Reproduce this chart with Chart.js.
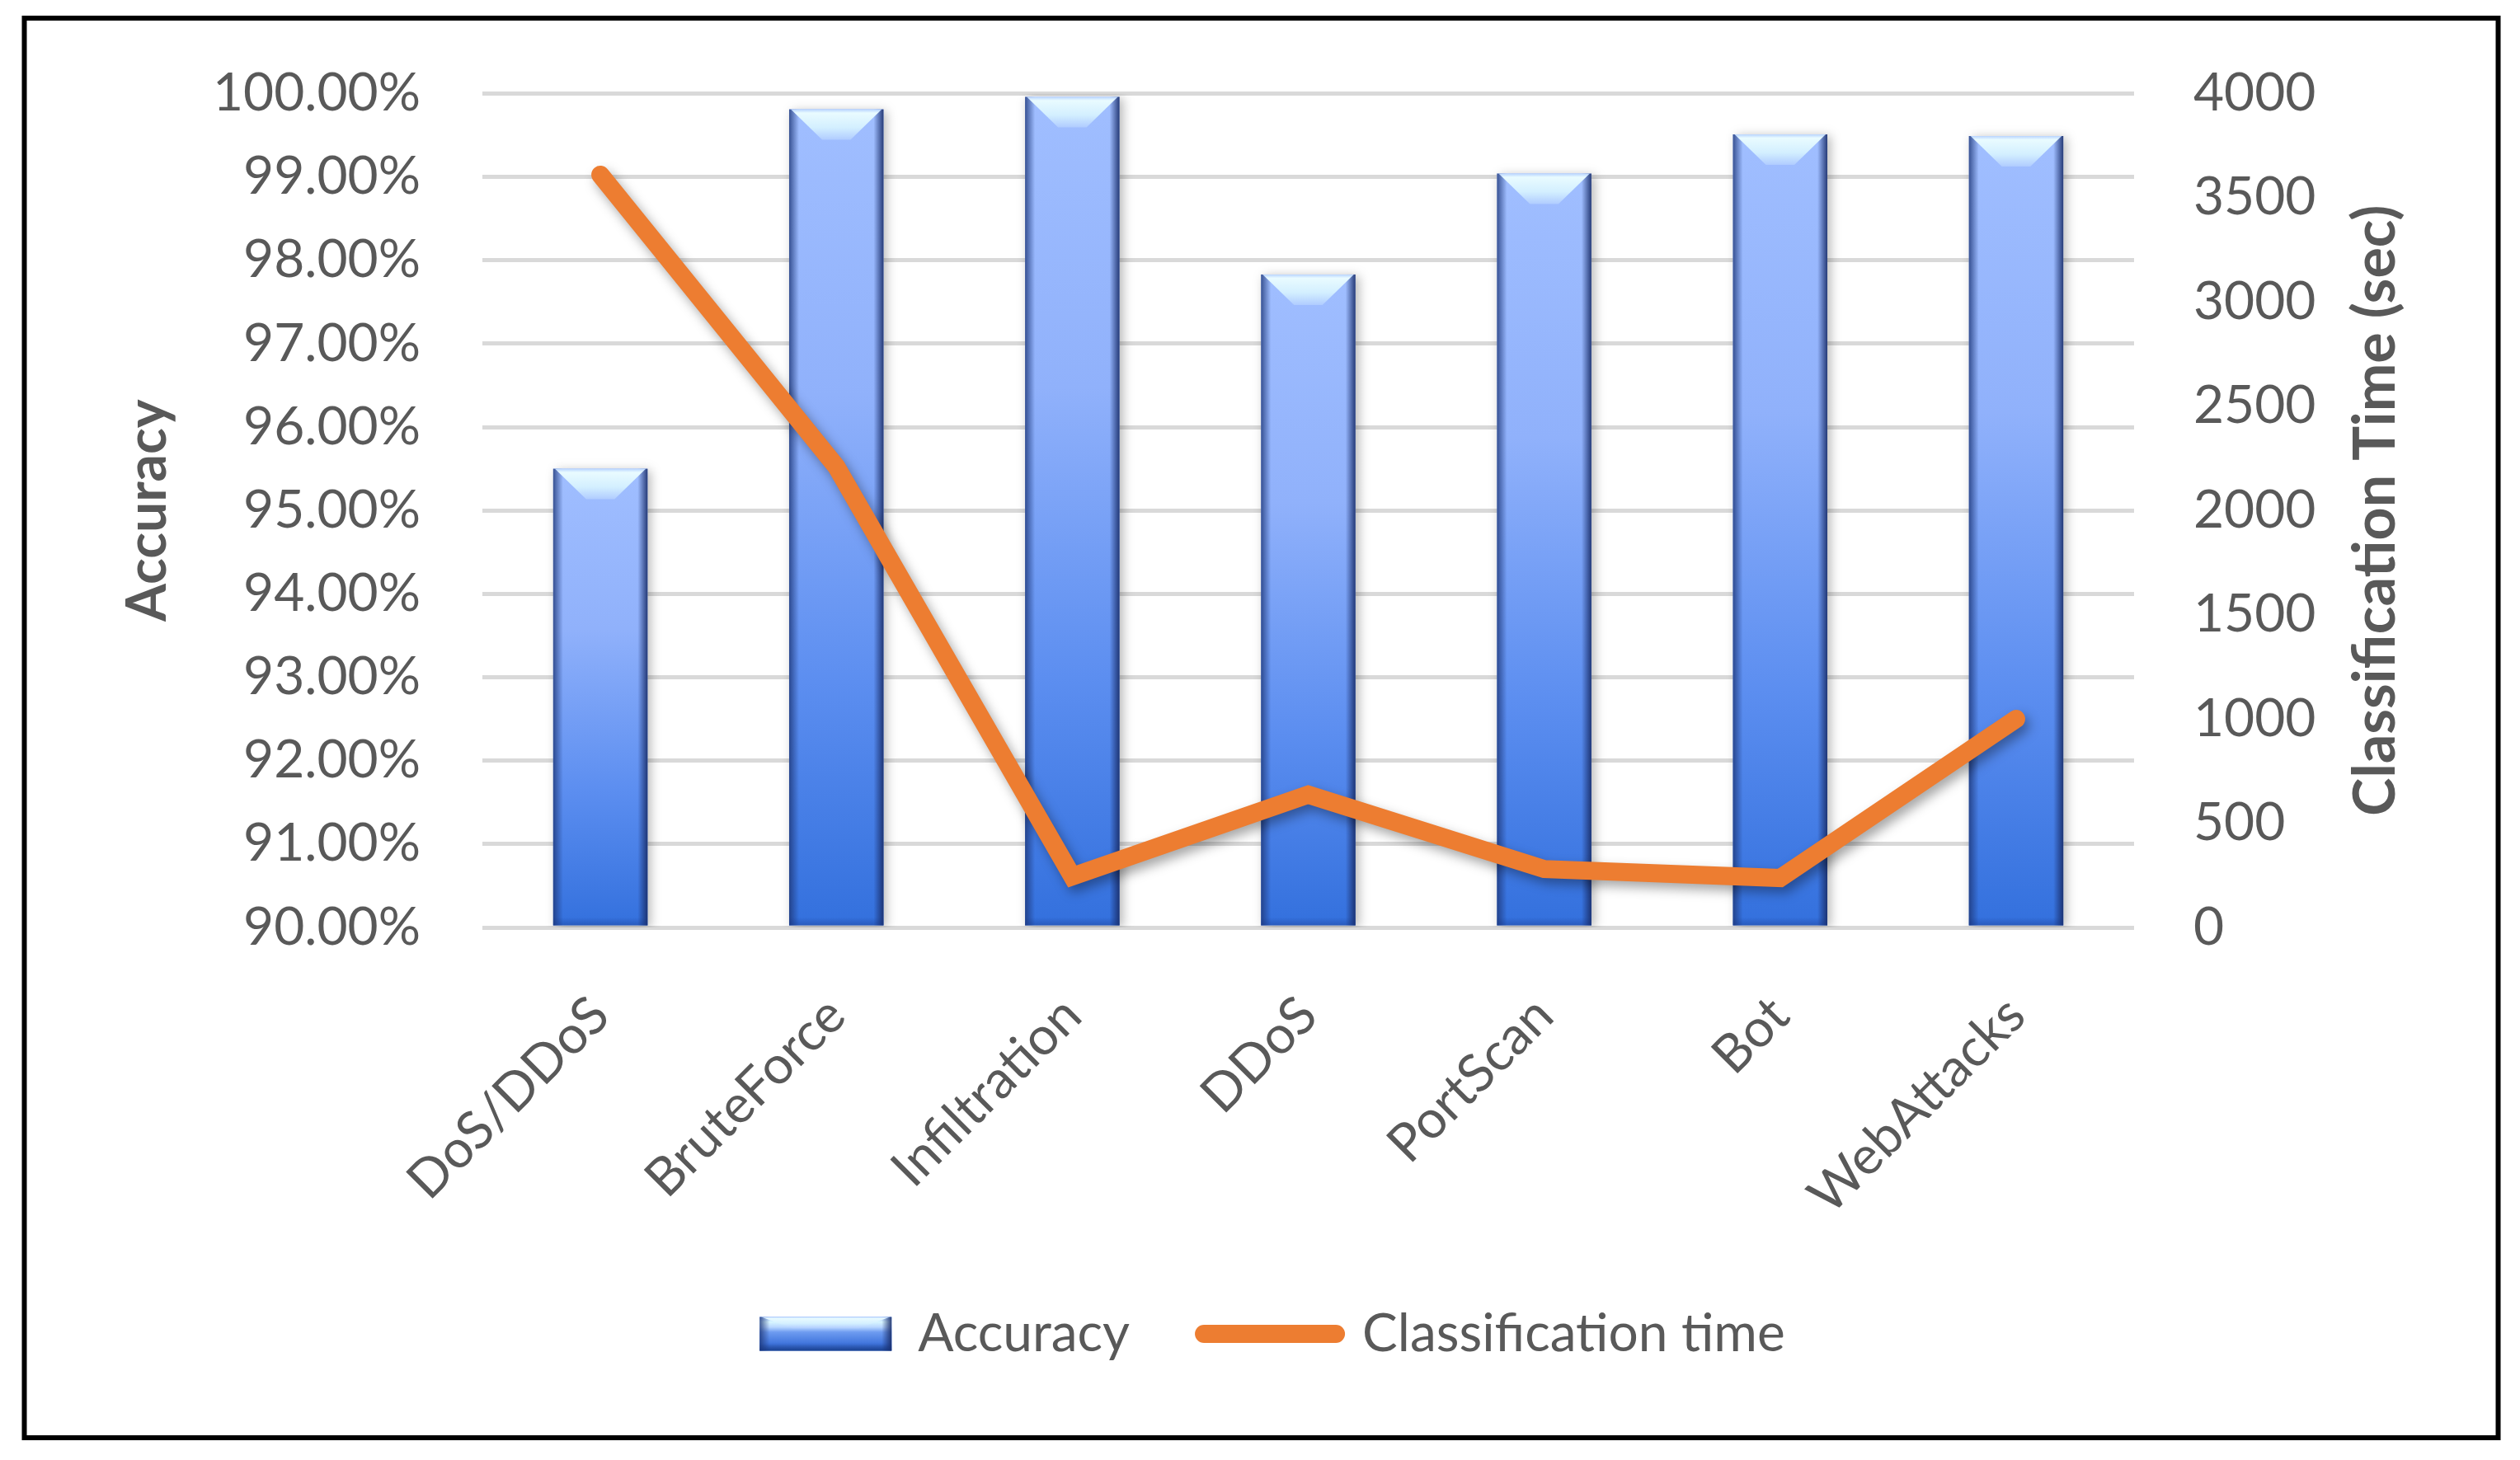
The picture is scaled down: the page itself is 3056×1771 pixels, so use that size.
<!DOCTYPE html>
<html>
<head>
<meta charset="utf-8">
<title>Accuracy and classification time</title>
<script src="https://cdn.jsdelivr.net/npm/chart.js@4.4.1/dist/chart.umd.min.js"></script>
<style>
  html, body { margin: 0; padding: 0; background: #fff; }
  canvas { display: block; }
</style>
</head>
<body>
<canvas id="chart" width="3056" height="1771"></canvas>
<script>
// attack categories on the x axis
const categories = ["DoS/DDoS", "BruteForce", "Infiltration", "DDoS", "PortScan", "Bot", "WebAttacks"];
// accuracy in percent (left axis)
const accuracy = [95.5, 99.81, 99.96, 97.83, 99.04, 99.51, 99.49];
// classification time in seconds (right axis)
const classificationTime = [3610, 2210, 245, 637, 280, 237, 1000];
// tick values
const accuracyTicks = [90, 91, 92, 93, 94, 95, 96, 97, 98, 99, 100];
const timeTicks = [0, 500, 1000, 1500, 2000, 2500, 3000, 3500, 4000];

const grey = "#595959";
const font = "Lato";

// gradient for each bar, from its top down to the axis
function barFill(context) {
  const chart = context.chart;
  const area = chart.chartArea;
  if (!area || !chart.scales.y) return "#6b98ee";
  const top = chart.scales.y.getPixelForValue(accuracy[context.dataIndex]);
  const g = chart.ctx.createLinearGradient(0, top, 0, area.bottom);
  g.addColorStop(0, "#a0beff");
  g.addColorStop(0.35, "#90b1fb");
  g.addColorStop(0.7, "#5c8ef0");
  g.addColorStop(1, "#3370dd");
  return g;
}

function drawBevel(c, x, top, base, w) {
  const l = x - w / 2, r = x + w / 2;
  const d = Math.min(37, (base - top) / 3);
  const inset = Math.min(40, w * 0.35);
  // side edges
  let g = c.createLinearGradient(l, 0, l + 12, 0);
  g.addColorStop(0, "rgba(30,55,120,0.8)");
  g.addColorStop(1, "rgba(30,55,120,0)");
  c.fillStyle = g;
  c.fillRect(l, top, 12, base - top);
  g = c.createLinearGradient(r, 0, r - 12, 0);
  g.addColorStop(0, "rgba(25,45,105,0.9)");
  g.addColorStop(1, "rgba(25,45,105,0)");
  c.fillStyle = g;
  c.fillRect(r - 12, top, 12, base - top);
  // top face
  g = c.createLinearGradient(0, top, 0, top + d);
  g.addColorStop(0, "#b8d4ff");
  g.addColorStop(0.12, "#e9fbff");
  g.addColorStop(0.6, "#d3efff");
  g.addColorStop(1, "#b0ccff");
  c.fillStyle = g;
  c.beginPath();
  c.moveTo(l + 2, top); c.lineTo(r - 2, top); c.lineTo(r - inset, top + d); c.lineTo(l + inset, top + d);
  c.closePath(); c.fill();
  // bottom edge
  g = c.createLinearGradient(0, base - 10, 0, base);
  g.addColorStop(0, "rgba(20,50,130,0)");
  g.addColorStop(1, "rgba(20,50,130,0.35)");
  c.fillStyle = g;
  c.fillRect(l, base - 10, w, 10);
}

const shading = {
  id: "shading",
  beforeDraw(chart) {
    const c = chart.ctx;
    c.save(); c.fillStyle = "#fff"; c.fillRect(0, 0, chart.width, chart.height); c.restore();
  },
  beforeDatasetDraw(chart, args) {
    const c = chart.ctx;
    c.save();
    if (args.index === 0) {
      c.shadowColor = "rgba(0,0,0,0.28)"; c.shadowBlur = 12; c.shadowOffsetX = 4; c.shadowOffsetY = 2;
    } else {
      c.shadowColor = "rgba(0,0,0,0.35)"; c.shadowBlur = 14; c.shadowOffsetX = 5; c.shadowOffsetY = 7;
    }
  },
  afterDatasetDraw(chart, args) {
    const c = chart.ctx;
    c.restore();
    if (args.index !== 0) return;
    const bottom = chart.chartArea.bottom;
    args.meta.data.forEach((bar) => {
      const p = bar.getProps(["x", "y", "base", "width"], true);
      drawBevel(c, p.x, p.y, Math.min(p.base, bottom), p.width);
    });
  },
  afterDraw(chart) {
    const c = chart.ctx;
    // legend swatch for the bars
    const hb = chart.legend.legendHitBoxes[0];
    if (hb) {
      const x = hb.left, y = hb.top + 32 - 20.5, w = 160, h = 41;
      const g = c.createLinearGradient(0, y, 0, y + h);
      g.addColorStop(0, "#a6c6ff");
      g.addColorStop(0.15, "#d8f6ff");
      g.addColorStop(0.3, "#b8d6ff");
      g.addColorStop(0.45, "#6d9bf0");
      g.addColorStop(0.8, "#3f74dc");
      g.addColorStop(1, "#1f4a98");
      c.save();
      c.fillStyle = g;
      c.fillRect(x, y, w, h);
      c.restore();
      drawBevel(c, x + w / 2, y, y + h, w);
    }
    // right axis title reads bottom to top
    const a = chart.chartArea;
    c.save();
    c.translate(chart.scales.y1.left + 316, (a.top + a.bottom) / 2);
    c.rotate(-Math.PI / 2);
    c.font = "bold 70px " + font;
    c.fillStyle = grey;
    c.textAlign = "center";
    c.textBaseline = "alphabetic";
    c.fillText("Classification Time (sec)", 0, 0);
    c.restore();
    // outer frame
    c.save();
    c.strokeStyle = "#000";
    c.lineWidth = 6;
    c.strokeRect(29.5, 22, 3000, 1722);
    c.restore();
  }
};

const setTicks = (values) => (scale) => {
  scale.ticks = values.map((v) => ({ value: v }));
};

new Chart(document.getElementById("chart"), {
  data: {
    labels: categories,
    datasets: [
      {
        type: "bar",
        label: "Accuracy",
        data: accuracy,
        yAxisID: "y",
        base: accuracyTicks[0],
        backgroundColor: barFill,
        borderWidth: 0,
        categoryPercentage: 1,
        barPercentage: 0.4,
        order: 2
      },
      {
        type: "line",
        label: "Classification time",
        data: classificationTime,
        yAxisID: "y1",
        borderColor: "#ED7D31",
        backgroundColor: "#ED7D31",
        borderWidth: 22,
        borderCapStyle: "round",
        borderJoinStyle: "miter",
        pointRadius: 0,
        tension: 0,
        order: 1
      }
    ]
  },
  options: {
    responsive: false,
    animation: false,
    devicePixelRatio: 1,
    layout: { padding: { left: 40, right: 10, top: 112, bottom: 111 } },
    plugins: {
      tooltip: { enabled: false },
      legend: {
        position: "bottom",
        labels: {
          font: { family: font, size: 64 },
          color: grey,
          usePointStyle: true,
          pointStyleWidth: 160,
          boxHeight: 41,
          padding: 90,
          sort: (a, b) => a.datasetIndex - b.datasetIndex,
          generateLabels: (chart) => chart.data.datasets.map((ds, i) => ({
            text: ds.label,
            datasetIndex: i,
            fillStyle: i === 0 ? "#6b98ee" : "#ED7D31",
            strokeStyle: "#ED7D31",
            lineWidth: i === 0 ? 0 : 22,
            lineCap: "round",
            pointStyle: i === 0 ? "rect" : "line",
            fontColor: grey,
            hidden: false
          }))
        }
      }
    },
    scales: {
      x: {
        grid: { display: false },
        border: { display: false },
        ticks: {
          color: grey,
          font: { family: font, size: 64 },
          minRotation: 45,
          maxRotation: 45,
          autoSkip: false,
          padding: 61
        },
        afterFit: (scale) => { scale.height = 371; }
      },
      y: {
        position: "left",
        min: accuracyTicks[0],
        max: accuracyTicks[accuracyTicks.length - 1],
        afterBuildTicks: setTicks(accuracyTicks),
        grid: { color: "#d9d9d9", lineWidth: 5, drawTicks: false },
        border: { display: false },
        ticks: {
          color: grey,
          font: { family: font, size: 64 },
          padding: 75,
          callback: (v) => v.toFixed(2) + "%"
        },
        title: {
          display: true,
          text: "Accuracy",
          color: grey,
          font: { family: font, size: 66, weight: "bold", lineHeight: 1 },
          padding: { top: 107, bottom: 0 }
        },
        afterFit: (scale) => { scale.width = 545; }
      },
      y1: {
        position: "right",
        min: timeTicks[0],
        max: timeTicks[timeTicks.length - 1],
        afterBuildTicks: setTicks(timeTicks),
        grid: { display: false, drawTicks: false },
        border: { display: false },
        ticks: {
          color: grey,
          font: { family: font, size: 64 },
          padding: 72,
          callback: (v) => String(v)
        },
        afterFit: (scale) => { scale.width = 458; }
      }
    }
  },
  plugins: [shading]
});
</script>
</body>
</html>
